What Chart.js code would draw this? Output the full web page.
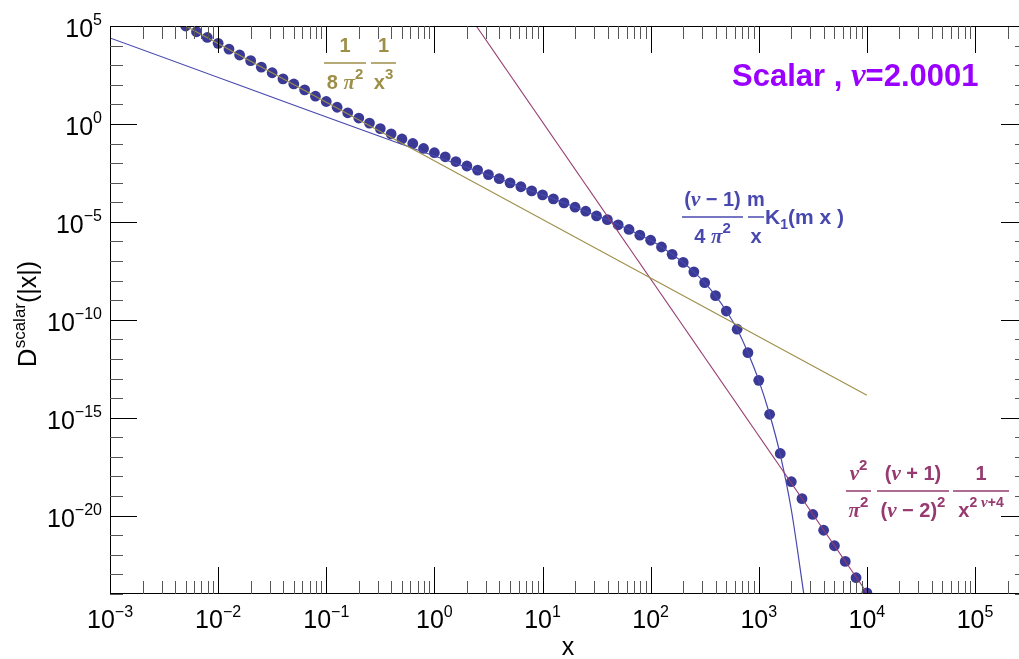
<!DOCTYPE html>
<html lang="en">
  <head>
    <meta charset="UTF-8" />
    <title>Scalar propagator</title>
    <script src="https://cdn.jsdelivr.net/npm/chart.js"></script>
    <style>
      body {
        margin: 0;
        padding: 0;
        background: #fff;
        overflow: hidden;
      }
      .wrap {
        width: 1040px;
        height: 659px;
        position: relative;
      }
    </style>
  </head>
  <body>
    <div class="wrap">
      <canvas id="chart"></canvas>
    </div>

    <script>
      // dots: full propagator, every 0.1 decade
      const dotX = [
        0.00501, 0.00631, 0.00794,
        0.01, 0.0126, 0.0158, 0.02, 0.0251, 0.0316, 0.0398, 0.0501, 0.0631, 0.0794,
        0.1, 0.126, 0.158, 0.2, 0.251, 0.316, 0.398, 0.501, 0.631, 0.794,
        1, 1.26, 1.58, 2.0, 2.51, 3.16, 3.98, 5.01, 6.31, 7.94,
        10, 12.6, 15.8, 20, 25.1, 31.6, 39.8, 50.1, 63.1, 79.4,
        100, 126, 158, 200, 251, 316, 398, 501, 631, 794,
        1000, 1260, 1580, 2000, 2510, 3160, 3980, 5010, 6310, 7940,
        10000,
      ];
      const dotY = [
        1.0e5, 5.1e4, 2.6e4,
        1.3e4, 6.6e3, 3.3e3, 1.7e3, 7.9e2, 4.1e2, 2.0e2, 1.1e2, 55, 26,
        14, 7.1, 3.7, 2.0, 1.1, 0.58, 0.31, 0.17, 0.1, 0.056,
        0.034, 0.021, 0.012, 7.1e-3, 4.4e-3, 2.6e-3, 1.6e-3, 9.8e-4, 6.2e-4, 3.8e-4,
        2.4e-4, 1.5e-4, 9.3e-5, 5.6e-5, 3.5e-5, 2.0e-5, 1.3e-5, 7.1e-6, 4.1e-6, 2.1e-6,
        1.15e-6, 5.2e-7, 2.2e-7, 8.5e-8, 2.8e-8, 7.9e-9, 1.7e-9, 2.8e-10, 3.3e-11, 2.1e-12,
        8.1e-14, 1.5e-15, 1.5e-17, 5.4e-19, 7.4e-20, 1.15e-20, 1.8e-21, 2.9e-22, 4.6e-23, 6.8e-24,
        1.15e-24,
      ];

      // massive curve (m/x) K1(m x)
      const kX = [
        0.001, 3.16, 3.98, 5.01, 6.31, 7.94,
        10, 12.6, 15.8, 20, 25.1, 31.6, 39.8, 50.1, 63.1, 79.4,
        100, 126, 158, 200, 251, 316, 398, 501, 631, 794,
        1000, 1260, 1580, 2000, 2610,
      ];
      const kY = [
        2.45e4, 2.45e-3, 1.6e-3, 9.8e-4, 6.2e-4, 3.8e-4,
        2.4e-4, 1.5e-4, 9.3e-5, 5.6e-5, 3.5e-5, 2.0e-5, 1.3e-5, 7.1e-6, 4.1e-6, 2.1e-6,
        1.15e-6, 5.2e-7, 2.2e-7, 8.5e-8, 2.8e-8, 7.9e-9, 1.7e-9, 2.8e-10, 3.3e-11, 2.1e-12,
        8.1e-14, 1.5e-15, 1.3e-17, 2.0e-20, 1.0e-24,
      ];

      // 1/(8 pi^2 x^3)
      const olX = [0.00501, 10000];
      const olY = [1.0e5, 1.4e-14];

      // power-law tail 1/x^(2nu+4)
      const tlX = [2.44, 10200];
      const tlY = [1.0e5, 1.0e-24];

      // axis ticks
      const xDecades = [-3, -2, -1, 0, 1, 2, 3, 4, 5];
      const yLabelDecades = [5, 0, -5, -10, -15, -20];
      const yMin = 1e-24;
      const yMax = 1e5;
      const xMin = 1e-3;
      const xMax = 3.09e5;

      const DOT = "rgb(58,58,150)";
      const BLUE = "rgb(72,72,175)";
      const OLIVE = "rgb(158,143,72)";
      const PURPLE = "rgb(150,58,112)";
      const TITLE = "#9900ff";

      const SANS = '"Liberation Sans", Arial, sans-serif';
      const SERIF = '"Liberation Serif", "Times New Roman", serif';
      const R = (s) => `${s}px ${SANS}`;
      const B = (s) => `bold ${s}px ${SANS}`;
      const G = (s) => `italic bold ${s}px ${SERIF}`;

      const pts = (xs, ys) => xs.map((x, i) => ({ x: x, y: ys[i] }));

      function runs(ctx, parts, x, y, align) {
        let w = 0;
        parts.forEach((p) => {
          ctx.font = p[1];
          w += ctx.measureText(p[0]).width;
        });
        let cx = align === "center" ? x - w / 2 : align === "right" ? x - w : x;
        parts.forEach((p) => {
          ctx.font = p[1];
          ctx.fillText(p[0], cx, y + (p[2] || 0));
          cx += ctx.measureText(p[0]).width;
        });
        return w;
      }

      function frac(ctx, num, den, x0, x1, barY, color) {
        ctx.fillStyle = color;
        ctx.strokeStyle = color;
        ctx.lineWidth = 1.5;
        ctx.beginPath();
        ctx.moveTo(x0, barY);
        ctx.lineTo(x1, barY);
        ctx.stroke();
        runs(ctx, num, (x0 + x1) / 2, barY - 11, "center");
        runs(ctx, den, (x0 + x1) / 2, barY + 26, "center");
      }

      const sup = (d) => (d < 0 ? "\u2212" + -d : "" + d);

      const decor = {
        id: "decor",
        afterDraw(chart) {
          const ctx = chart.ctx;
          const a = chart.chartArea;
          const xs = chart.scales.x;
          const ys = chart.scales.y;
          ctx.save();
          ctx.textAlign = "left";
          ctx.textBaseline = "alphabetic";

          // frame
          ctx.strokeStyle = "#000";
          ctx.lineWidth = 1;
          ctx.strokeRect(a.left + 0.5, a.top + 0.5, a.right - a.left - 1, a.bottom - a.top - 1);

          // x ticks
          for (let d = -3; d <= 5; d++) {
            for (let k = 1; k <= 9; k++) {
              const v = k * Math.pow(10, d);
              if (v > xMax) break;
              const px = Math.round(xs.getPixelForValue(v)) + 0.5;
              const len = k === 1 ? 27 : 13;
              ctx.strokeStyle = k === 1 ? "#000" : "#555";
              ctx.beginPath();
              ctx.moveTo(px, a.bottom);
              ctx.lineTo(px, a.bottom - len);
              ctx.moveTo(px, a.top);
              ctx.lineTo(px, a.top + len);
              ctx.stroke();
            }
          }
          // y ticks
          for (let d = -24; d <= 5; d++) {
            const py = Math.round(ys.getPixelForValue(Math.pow(10, d))) + 0.5;
            const major = d % 5 === 0;
            const len = major ? 27 : 13;
            ctx.strokeStyle = major ? "#000" : "#555";
            ctx.beginPath();
            ctx.moveTo(a.left, py);
            ctx.lineTo(a.left + len, py);
            ctx.moveTo(a.right, py);
            ctx.lineTo(a.right - len, py);
            ctx.stroke();
          }

          // tick labels
          ctx.fillStyle = "#000";
          xDecades.forEach((d) => {
            const px = xs.getPixelForValue(Math.pow(10, d));
            runs(ctx, [["10", R(25)], [sup(d), R(16), -11]], px, a.bottom + 34, "center");
          });
          yLabelDecades.forEach((d) => {
            const py = ys.getPixelForValue(Math.pow(10, d));
            runs(ctx, [["10", R(25)], [sup(d), R(16), -12]], 102, py + 11, "right");
          });

          // axis titles
          runs(ctx, [["x", R(25)]], (a.left + a.right) / 2 - 1, 655, "center");
          ctx.save();
          ctx.translate(36, (a.top + a.bottom) / 2 + 4);
          ctx.rotate(-Math.PI / 2);
          runs(ctx, [["D", R(26)], ["scalar", R(17), -11], ["(|x|)", R(25)]], 0, 0, "center");
          ctx.restore();

          // olive label
          frac(ctx, [["1", B(20)]], [["8 ", B(20)], ["\u03c0", G(21)], ["2", B(15), -10]], 324, 366, 63, OLIVE);
          frac(ctx, [["1", B(20)]], [["x", B(20)], ["3", B(15), -10]], 371, 396, 63, OLIVE);

          // blue label
          frac(ctx, [["(", B(20)], ["\u03bd", G(21)], [" \u2212 1)", B(20)]],
            [["4 ", B(20)], ["\u03c0", G(21)], ["2", B(15), -10]], 682, 743, 217, BLUE);
          frac(ctx, [["m", B(20)]], [["x", B(20)]], 748, 764, 217, BLUE);
          ctx.fillStyle = BLUE;
          runs(ctx, [["K", B(21)], ["1", B(14), 5], ["(", B(21)], ["m x", B(21)], [" )", B(21)]], 765, 224, "left");

          // purple label
          frac(ctx, [["\u03bd", G(21)], ["2", B(15), -10]], [["\u03c0", G(21)], ["2", B(15), -10]], 846, 871, 491, PURPLE);
          frac(ctx, [["(", B(20)], ["\u03bd", G(21)], [" + 1)", B(20)]],
            [["(", B(20)], ["\u03bd", G(21)], [" \u2212 2)", B(20)], ["2", B(15), -10]], 877, 949, 491, PURPLE);
          frac(ctx, [["1", B(20)]],
            [["x", B(20)], ["2 ", B(14), -10], ["\u03bd", G(15), -10], ["+4", B(14), -10]], 953, 1009, 491, PURPLE);

          // title
          ctx.fillStyle = TITLE;
          runs(ctx, [["Scalar , ", B(31)], ["\u03bd", G(33)], ["=2.0001", B(31)]], 732, 86, "left");

          ctx.restore();
        },
      };

      new Chart(document.getElementById("chart"), {
        type: "scatter",
        data: {
          datasets: [
            {
              data: pts(olX, olY),
              showLine: true,
              borderColor: OLIVE,
              borderWidth: 1.1,
              pointRadius: 0,
              clip: 0,
            },
            {
              data: pts(tlX, tlY),
              showLine: true,
              borderColor: PURPLE,
              borderWidth: 1.1,
              pointRadius: 0,
              clip: 0,
            },
            {
              data: pts(kX, kY),
              showLine: true,
              borderColor: BLUE,
              borderWidth: 1.2,
              pointRadius: 0,
              cubicInterpolationMode: "monotone",
              clip: 0,
            },
            {
              data: pts(dotX, dotY),
              showLine: false,
              pointRadius: 5.4,
              pointBorderWidth: 0,
              pointBackgroundColor: DOT,
              pointBorderColor: DOT,
              clip: 0,
            },
          ],
        },
        options: {
          responsive: true,
          maintainAspectRatio: false,
          animation: false,
          events: [],
          layout: { padding: { left: 110, top: 26, right: 12, bottom: 65 } },
          plugins: { legend: { display: false }, tooltip: { enabled: false } },
          scales: {
            x: { type: "logarithmic", min: xMin, max: xMax, display: false },
            y: { type: "logarithmic", min: yMin, max: yMax, display: false },
          },
        },
        plugins: [decor],
      });
    </script>
  </body>
</html>
